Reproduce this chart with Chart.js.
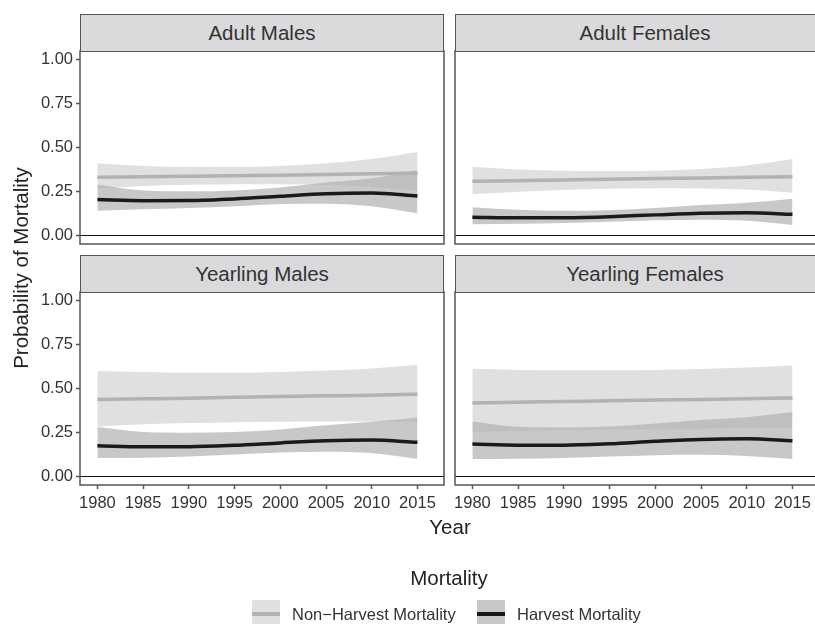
<!DOCTYPE html>
<html>
<head>
<meta charset="utf-8">
<script src="https://cdn.jsdelivr.net/npm/chart.js@4.4.1/dist/chart.umd.min.js"></script>
<style>
  html, body { margin: 0; padding: 0; background: #fff; }
  #wrap { position: relative; width: 815px; height: 624px; overflow: hidden; font-family: "Liberation Sans", Arial, sans-serif; color: #333; }
  #wrap canvas { position: absolute; left: 0; top: 0; }
  .strip { position: absolute; width: 364px; height: 38px; line-height: 35px; background: #dadadc; border: 1.5px solid #555; box-sizing: border-box; text-align: center; font-size: 20.5px; color: #333; }
  .title { position: absolute; text-align: center; font-size: 20.5px; height: 24px; line-height: 24px; color: #222; }
  .key { position: absolute; top: 600px; width: 28px; height: 28px; }
  .key i { position: absolute; left: 0; right: 0; top: 12px; height: 4px; }
  .lab { position: absolute; top: 602px; font-size: 16.5px; line-height: 24px; color: #333; }
</style>
</head>
<body>
<div id="wrap">
  <canvas id="am" width="830" height="624"></canvas>
  <canvas id="af" width="830" height="624"></canvas>
  <canvas id="ym" width="830" height="624"></canvas>
  <canvas id="yf" width="830" height="624"></canvas>

  <div class="strip" style="left:80px;top:14px">Adult Males</div>
  <div class="strip" style="left:455px;top:14px;width:380px">Adult Females</div>
  <div class="strip" style="left:80px;top:255px">Yearling Males</div>
  <div class="strip" style="left:455px;top:255px;width:380px">Yearling Females</div>

  <div class="title" style="left:-129px;top:256px;width:300px;transform:rotate(-90deg)">Probability of Mortality</div>
  <div class="title" style="left:350px;top:515px;width:200px">Year</div>
  <div class="title" style="left:349px;top:566px;width:200px">Mortality</div>

  <div class="key" style="left:252px;background:#e0e0e2"><i style="background:#b2b2b4"></i></div>
  <div class="lab" style="left:292px">Non−Harvest Mortality</div>
  <div class="key" style="left:477px;background:#c8c8ca"><i style="background:#1a1a1a"></i></div>
  <div class="lab" style="left:517px">Harvest Mortality</div>
</div>

<script>
/************ DATA ************/
const years = [1980, 1985, 1990, 1995, 2000, 2005, 2010, 2015];
const xTicks = [1980, 1985, 1990, 1995, 2000, 2005, 2010, 2015];
const yTicks = [0, 0.25, 0.5, 0.75, 1];

// Adult Males
const amNonHarvest   = [0.330, 0.333, 0.336, 0.339, 0.342, 0.346, 0.350, 0.354];
const amNonHarvestHi = [0.410, 0.395, 0.390, 0.390, 0.395, 0.410, 0.435, 0.475];
const amNonHarvestLo = [0.266, 0.280, 0.287, 0.290, 0.290, 0.286, 0.275, 0.255];
const amHarvest      = [0.203, 0.197, 0.198, 0.207, 0.222, 0.236, 0.240, 0.224];
const amHarvestHi    = [0.288, 0.255, 0.250, 0.255, 0.272, 0.300, 0.325, 0.370];
const amHarvestLo    = [0.140, 0.148, 0.155, 0.165, 0.178, 0.180, 0.165, 0.125];

// Adult Females
const afNonHarvest   = [0.307, 0.311, 0.315, 0.319, 0.323, 0.326, 0.330, 0.334];
const afNonHarvestHi = [0.390, 0.375, 0.368, 0.366, 0.368, 0.378, 0.398, 0.435];
const afNonHarvestLo = [0.233, 0.248, 0.258, 0.265, 0.268, 0.267, 0.260, 0.242];
const afHarvest      = [0.103, 0.099, 0.100, 0.106, 0.116, 0.125, 0.128, 0.119];
const afHarvestHi    = [0.160, 0.145, 0.140, 0.143, 0.155, 0.172, 0.185, 0.208];
const afHarvestLo    = [0.062, 0.066, 0.070, 0.077, 0.085, 0.088, 0.082, 0.058];

// Yearling Males
const ymNonHarvest   = [0.437, 0.441, 0.445, 0.450, 0.454, 0.458, 0.462, 0.467];
const ymNonHarvestHi = [0.600, 0.594, 0.590, 0.590, 0.594, 0.602, 0.614, 0.635];
const ymNonHarvestLo = [0.284, 0.296, 0.303, 0.308, 0.311, 0.312, 0.312, 0.310];
const ymHarvest      = [0.174, 0.168, 0.168, 0.176, 0.190, 0.202, 0.206, 0.193];
const ymHarvestHi    = [0.280, 0.252, 0.248, 0.252, 0.267, 0.290, 0.310, 0.335];
const ymHarvestLo    = [0.104, 0.106, 0.112, 0.124, 0.135, 0.140, 0.132, 0.098];

// Yearling Females
const yfNonHarvest   = [0.418, 0.422, 0.426, 0.430, 0.434, 0.438, 0.442, 0.446];
const yfNonHarvestHi = [0.612, 0.606, 0.604, 0.604, 0.606, 0.611, 0.619, 0.631];
const yfNonHarvestLo = [0.252, 0.258, 0.262, 0.265, 0.268, 0.271, 0.274, 0.278];
const yfHarvest      = [0.183, 0.177, 0.177, 0.185, 0.199, 0.210, 0.213, 0.202];
const yfHarvestHi    = [0.312, 0.282, 0.278, 0.283, 0.300, 0.320, 0.336, 0.366];
const yfHarvestLo    = [0.098, 0.100, 0.104, 0.112, 0.120, 0.122, 0.115, 0.098];

/************ STYLE ************/
const FONT = "'Liberation Sans', Arial, sans-serif";
const NH_FILL = "rgba(170,170,176,0.36)";
const H_FILL = "rgba(181,181,183,0.74)";
const NH_LINE = "#b2b2b4";
const H_LINE = "#1a1a1a";

const panelFrame = {
    id: "panelFrame",
    afterDraw(chart) {
        const { ctx, chartArea: a } = chart;
        ctx.save();
        ctx.strokeStyle = "#555";
        ctx.lineWidth = 1.5;
        ctx.strokeRect(a.left, a.top, a.right - a.left, a.bottom - a.top);
        ctx.restore();
    }
};

const pts = arr => arr.map((v, i) => ({ x: years[i], y: v }));

function band(arr, fill, color) {
    return {
        data: pts(arr),
        fill: fill,
        backgroundColor: color,
        borderWidth: 0,
        pointRadius: 0,
        cubicInterpolationMode: "monotone"
    };
}

function line(arr, color) {
    return {
        data: pts(arr),
        fill: false,
        borderColor: color,
        borderWidth: 3.5,
        pointRadius: 0,
        cubicInterpolationMode: "monotone"
    };
}

/************ PANELS ************/
function makePanel(id, s, L, T, showY, showX) {
    const R = L + 364, B = T + 193;
    const yW = 60, xH = 30;

    return new Chart(document.getElementById(id), {
        type: "line",
        data: {
            datasets: [
                line(s.h, H_LINE),
                line(s.nh, NH_LINE),
                band(s.hHi, "+1", H_FILL),
                band(s.hLo, false, H_FILL),
                band(s.nhHi, "+1", NH_FILL),
                band(s.nhLo, false, NH_FILL)
            ]
        },
        options: {
            responsive: false,
            animation: false,
            layout: {
                padding: {
                    left: showY ? L - yW : L,
                    right: 830 - R,
                    top: T,
                    bottom: showX ? 624 - B - xH : 624 - B
                }
            },
            plugins: { legend: { display: false }, tooltip: { enabled: false } },
            scales: {
                x: {
                    type: "linear",
                    min: 1978.1,
                    max: 2017.9,
                    display: showX,
                    afterBuildTicks: sc => { sc.ticks = xTicks.map(v => ({ value: v })); },
                    afterFit: sc => { sc.height = showX ? xH : 0; },
                    border: { display: false },
                    grid: { drawOnChartArea: false, tickLength: 4, tickColor: "#555", tickWidth: 1.5 },
                    ticks: {
                        autoSkip: false, maxRotation: 0, padding: 5, color: "#333",
                        font: { family: FONT, size: 16.5 },
                        callback: v => String(v)
                    }
                },
                y: {
                    min: -0.05,
                    max: 1.05,
                    afterBuildTicks: sc => { sc.ticks = yTicks.map(v => ({ value: v })); },
                    afterFit: sc => { sc.width = showY ? yW : 0; },
                    border: { display: false },
                    grid: {
                        color: c => (c.tick && c.tick.value === 0 ? "#111" : "rgba(0,0,0,0)"),
                        lineWidth: 1,
                        drawTicks: showY,
                        tickLength: 4, tickColor: "#555", tickWidth: 1.5
                    },
                    ticks: {
                        display: showY, padding: 3, color: "#333",
                        font: { family: FONT, size: 16.5 },
                        callback: v => v.toFixed(2)
                    }
                }
            }
        },
        plugins: [panelFrame]
    });
}

makePanel("am", { nh: amNonHarvest, nhHi: amNonHarvestHi, nhLo: amNonHarvestLo, h: amHarvest, hHi: amHarvestHi, hLo: amHarvestLo }, 80, 51, true, false);
makePanel("af", { nh: afNonHarvest, nhHi: afNonHarvestHi, nhLo: afNonHarvestLo, h: afHarvest, hHi: afHarvestHi, hLo: afHarvestLo }, 455, 51, false, false);
makePanel("ym", { nh: ymNonHarvest, nhHi: ymNonHarvestHi, nhLo: ymNonHarvestLo, h: ymHarvest, hHi: ymHarvestHi, hLo: ymHarvestLo }, 80, 292, true, true);
makePanel("yf", { nh: yfNonHarvest, nhHi: yfNonHarvestHi, nhLo: yfNonHarvestLo, h: yfHarvest, hHi: yfHarvestHi, hLo: yfHarvestLo }, 455, 292, false, true);
</script>
</body>
</html>
